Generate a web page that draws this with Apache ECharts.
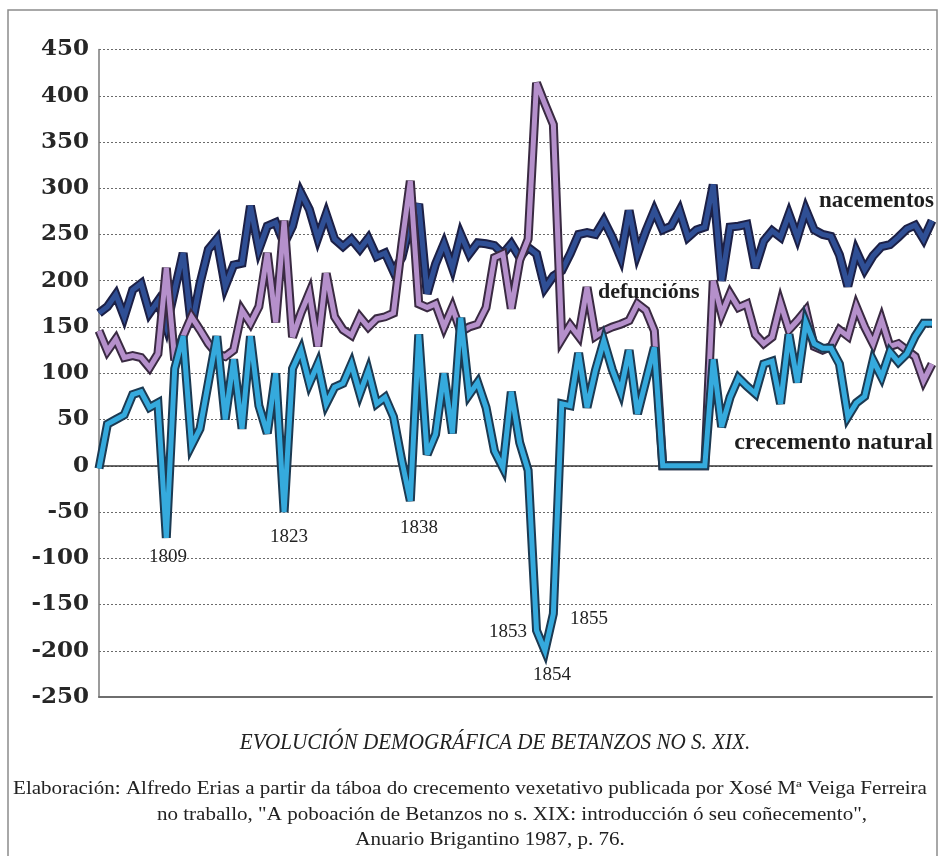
<!DOCTYPE html>
<html><head><meta charset="utf-8">
<script src="https://cdn.jsdelivr.net/npm/echarts@6/dist/echarts.min.js"></script>
<style>html,body{margin:0;padding:0;background:#fff;}#c{width:940px;height:856px;}</style>
</head><body><div id="c"></div>
<script>
const years = [1801,1802,1803,1804,1805,1806,1807,1808,1809,1810,
1811,1812,1813,1814,1815,1816,1817,1818,1819,1820,
1821,1822,1823,1824,1825,1826,1827,1828,1829,1830,
1831,1832,1833,1834,1835,1836,1837,1838,1839,1840,
1841,1842,1843,1844,1845,1846,1847,1848,1849,1850,
1851,1852,1853,1854,1855,1856,1857,1858,1859,1860,
1861,1862,1863,1864,1865,1866,1867,1868,1869,1870,
1871,1872,1873,1874,1875,1876,1877,1878,1879,1880,
1881,1882,1883,1884,1885,1886,1887,1888,1889,1890,
1891,1892,1893,1894,1895,1896,1897,1898,1899,1900];

const nacementos = [165,172,185,161,190,197,165,178,150,190,
230,150,197,234,245,194,217,219,281,234,
259,263,240,259,295,277,246,272,245,237,
245,234,246,226,230,210,225,262,283,186,
218,240,214,250,229,241,240,238,229,240,
225,236,229,192,205,211,229,250,252,250,
265,247,225,276,229,254,276,255,259,276,
247,255,258,304,200,258,259,261,214,243,
254,247,272,247,277,255,250,248,228,194,
232,212,227,237,239,247,256,260,245,265];

const defuncions = [146,124,137,117,119,117,106,121,214,114,
140,161,147,132,121,118,125,168,154,172,
230,155,265,139,165,187,129,208,161,147,
141,161,150,159,161,165,240,308,175,171,
175,150,171,145,150,153,171,225,229,170,
222,245,414,391,369,137,152,140,193,140,
146,150,153,157,175,168,146,0,0,0,
0,0,0,200,164,186,171,175,142,132,
139,176,147,157,168,129,125,129,147,140,
172,150,132,158,129,132,125,118,92,110];

const crecemento = [-3,45,50,55,77,80,63,68,-78,105,
140,22,40,90,140,50,115,40,140,65,
35,100,-50,105,125,89,110,67,85,89,
110,78,103,67,74,53,5,-38,142,12,
34,100,35,160,77,90,63,16,-2,80,
25,-5,-178,-200,-160,67,65,122,63,103,
135,104,80,125,56,92,128,0,0,0,
0,0,0,115,42,74,95,86,78,110,
113,67,142,90,155,132,127,127,110,53,
68,75,114,96,123,112,121,140,154,154];

const yearMarks = [
  {text:'1809', x:168, y:557},
  {text:'1823', x:289, y:537},
  {text:'1838', x:419, y:528},
  {text:'1853', x:508, y:632},
  {text:'1854', x:552, y:675},
  {text:'1855', x:589, y:619}
];

const chart = echarts.init(document.getElementById('c'), null, {renderer:'canvas'});

function pair(data, outline, fill, zb) {
  return [
    {type:'line', data:data, showSymbol:false, silent:true, animation:false, z:zb,
     lineStyle:{color:outline, width:9, join:'miter', miterLimit:4}},
    {type:'line', data:data, showSymbol:false, silent:true, animation:false, z:zb+1,
     lineStyle:{color:fill, width:5, join:'miter', miterLimit:4}}
  ];
}

const serif = '"Liberation Serif","Times New Roman",serif';

const graphics = [
  {type:'rect', shape:{x:8, y:10, width:929, height:852}, style:{fill:null, stroke:'#8c8c8c', lineWidth:1.5}, silent:true},
  {type:'text', x:934, y:201, style:{text:'nacementos', fontFamily:serif, fontWeight:'bold', fontSize:23, fill:'#1e1e1e', align:'right', verticalAlign:'middle'}, z:20},
  {type:'text', x:598, y:292, style:{text:'defuncións', fontFamily:serif, fontWeight:'bold', fontSize:22, fill:'#1e1e1e', align:'left', verticalAlign:'middle'}, z:20},
  {type:'text', x:933, y:443, style:{text:'crecemento natural', fontFamily:serif, fontWeight:'bold', fontSize:24, fill:'#1e1e1e', align:'right', verticalAlign:'middle'}, z:20},
  {type:'text', x:495, y:743, scaleX:0.88, style:{text:'EVOLUCIÓN DEMOGRÁFICA DE BETANZOS NO S. XIX.', fontFamily:serif, fontStyle:'italic', fontSize:24, fill:'#222', align:'center', verticalAlign:'middle'}},
  {type:'text', x:470, y:789, scaleX:1.17, style:{text:'Elaboración: Alfredo Erias a partir da táboa do crecemento vexetativo publicada por Xosé Mª Veiga Ferreira', fontFamily:serif, fontSize:18, fill:'#222', align:'center', verticalAlign:'middle'}},
  {type:'text', x:512, y:815, scaleX:1.17, style:{text:'no traballo, "A poboación de Betanzos no s. XIX: introducción ó seu coñecemento",', fontFamily:serif, fontSize:18, fill:'#222', align:'center', verticalAlign:'middle'}},
  {type:'text', x:490, y:840, scaleX:1.17, style:{text:'Anuario Brigantino 1987, p. 76.', fontFamily:serif, fontSize:18, fill:'#222', align:'center', verticalAlign:'middle'}}
];
yearMarks.forEach(m => graphics.push({type:'text', x:m.x, y:m.y, style:{text:m.text, fontFamily:serif, fontSize:19, fill:'#222', align:'center', verticalAlign:'middle'}, z:20}));

chart.setOption({
  animation:false,
  backgroundColor:'#ffffff',
  grid:{left:99, right:8, top:49.5, bottom:159, containLabel:false},
  xAxis:[
    {type:'category', data:years, boundaryGap:false,
     axisLine:{show:true, onZero:true, lineStyle:{color:'#3a3a3a', width:1.5}},
     axisTick:{show:false}, axisLabel:{show:false}, splitLine:{show:false}},
    {type:'category', data:years, boundaryGap:false, position:'bottom',
     axisLine:{show:true, onZero:false, lineStyle:{color:'#6e6e6e', width:2}},
     axisTick:{show:false}, axisLabel:{show:false}, splitLine:{show:false}}
  ],
  yAxis:{type:'value', min:-250, max:450, interval:50,
    axisLine:{show:true, lineStyle:{color:'#7a7a7a', width:1.5}},
    axisTick:{show:false},
    axisLabel:{fontFamily:'"DejaVu Serif",serif', fontWeight:'bold', fontSize:23, color:'#262626', margin:10},
    splitLine:{show:true, lineStyle:{color:'#6a6a6a', type:[2,2], width:1}}
  },
  series:[].concat(
    pair(nacementos, '#1c2046', '#2f4f95', 2),
    pair(defuncions, '#3a2a42', '#b590cb', 4),
    pair(crecemento, '#1c3a52', '#35aadd', 6)
  ),
  graphic:graphics
});
</script></body></html>
